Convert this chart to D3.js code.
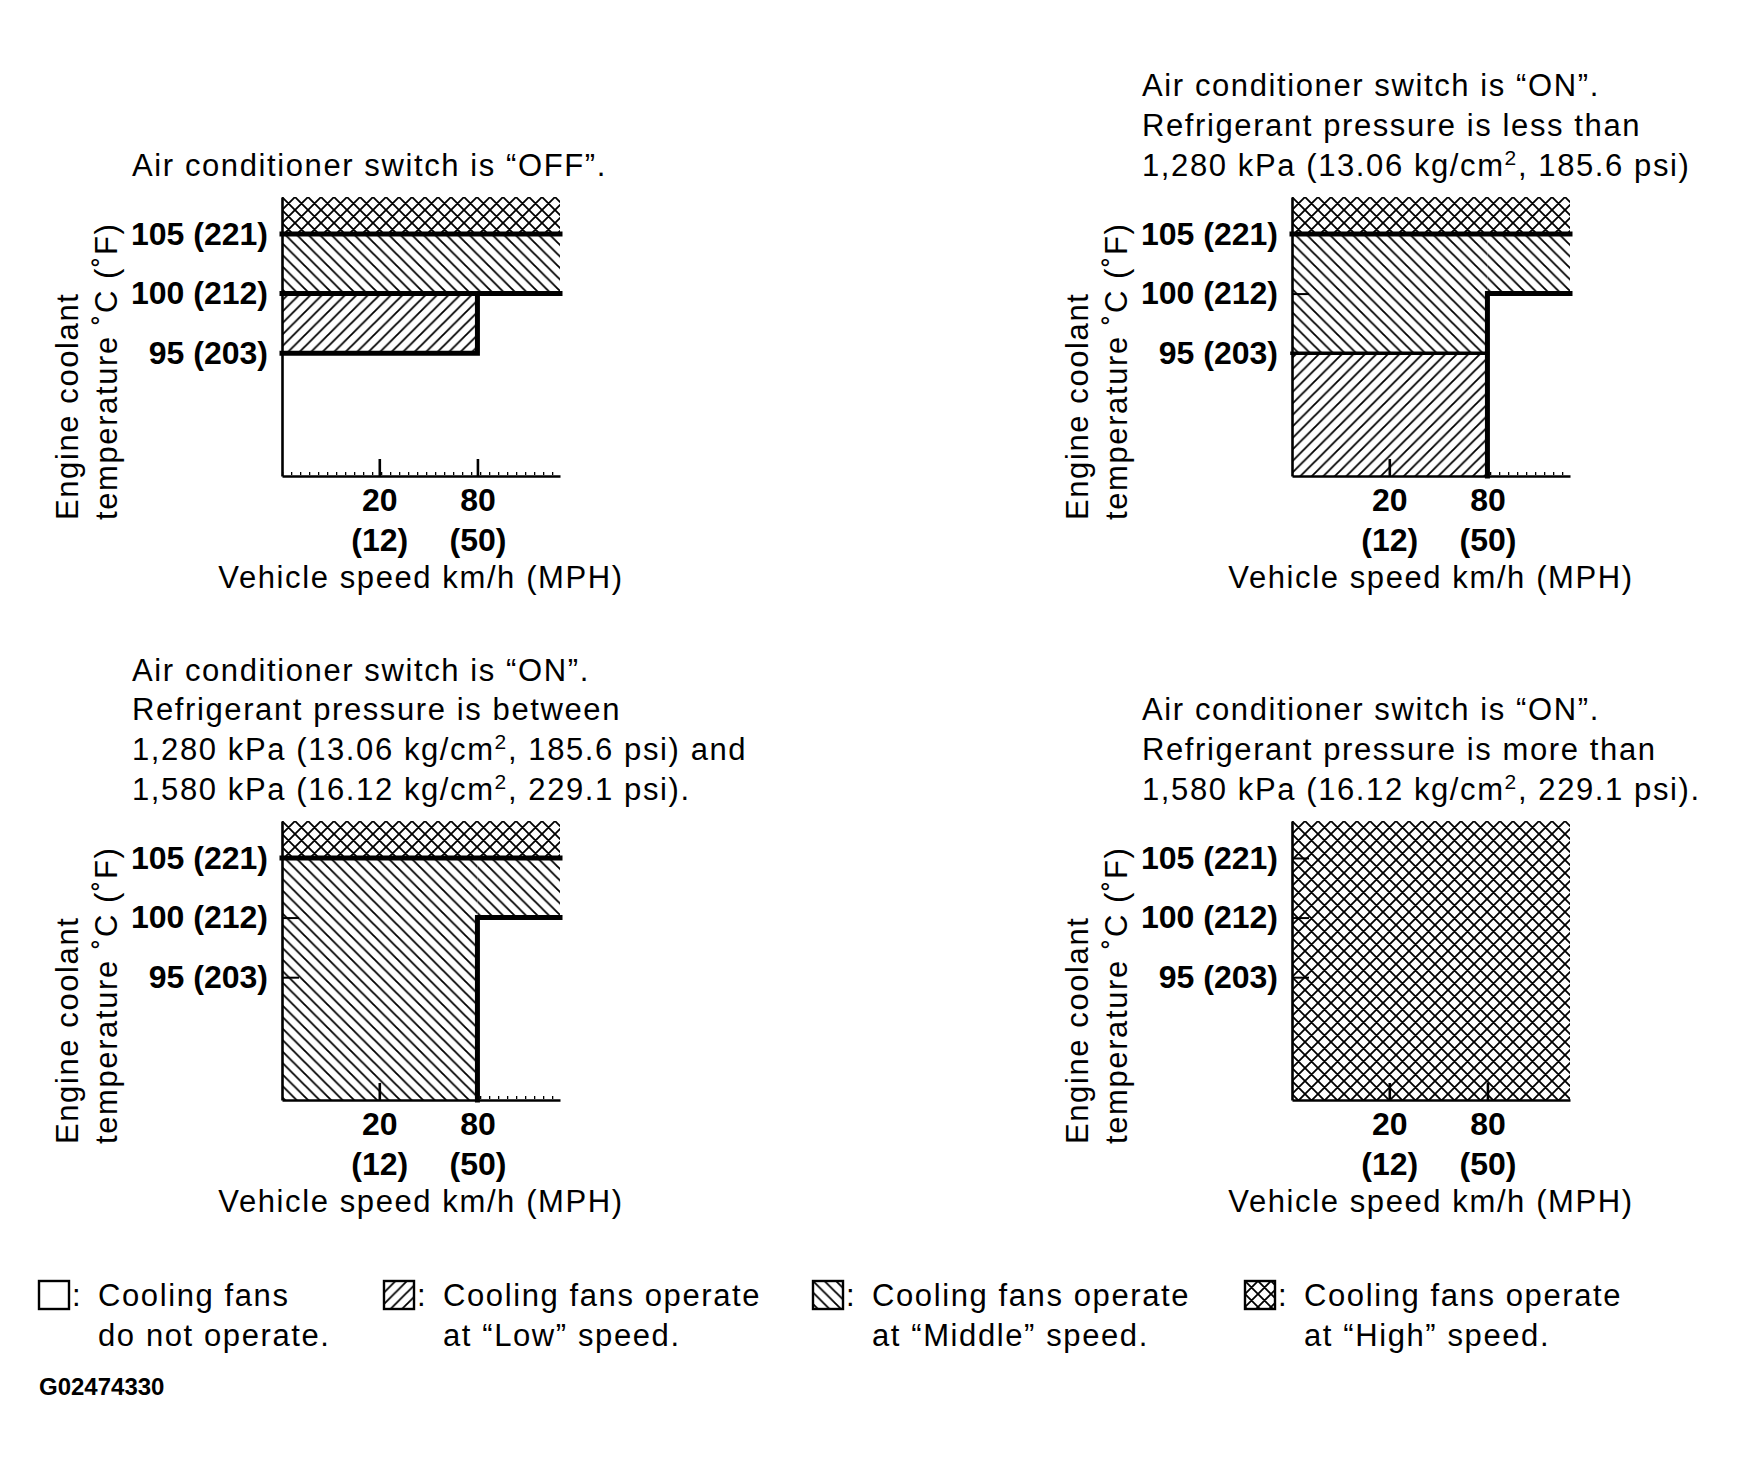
<!DOCTYPE html>
<html lang="en">
<head>
    <meta charset="UTF-8">
    <title>Cooling fan operation</title>
    <script src="https://cdn.jsdelivr.net/npm/d3@7"></script>
    <style>
        body { margin: 0; background: #fff; }
        text { font-family: "Liberation Sans", Arial, sans-serif; fill: #000; }
        .reg { font-size: 31px; letter-spacing: 1.6px; }
        .tick text, .num { font-size: 32px; font-weight: bold; }
    </style>
</head>
<body>
<div id="my_dataviz"></div>
<script>

    // ---- data -------------------------------------------------------------
    // temperature ticks in °C and the °F value shown in brackets
    const tempTicks = [95, 100, 105];
    const tempTicksF = [203, 212, 221];
    // vehicle speed ticks in km/h and MPH
    const speedTicks = [20, 80];
    const speedTicksMph = [12, 50];
    // the speed axis is not to scale: break points from left to right end
    const speedStops = [0, 20, 80, 120];
    // temperature shown from bottom to top of each plot
    const tempExtent = [84.7, 108.1];

    const panelTitles = [
        ['Air conditioner switch is \u201COFF\u201D.'],
        ['Air conditioner switch is \u201CON\u201D.',
         'Refrigerant pressure is less than',
         '1,280 kPa (13.06 kg/cm^2, 185.6 psi)'],
        ['Air conditioner switch is \u201CON\u201D.',
         'Refrigerant pressure is between',
         '1,280 kPa (13.06 kg/cm^2, 185.6 psi) and',
         '1,580 kPa (16.12 kg/cm^2, 229.1 psi).'],
        ['Air conditioner switch is \u201CON\u201D.',
         'Refrigerant pressure is more than',
         '1,580 kPa (16.12 kg/cm^2, 229.1 psi).']
    ];

    // zones: [fan level, speed from, speed to, temp from, temp to]
    const zonesOff = [
        ['high', 0, 120, 105, 108.1],
        ['middle', 0, 120, 100, 105],
        ['low', 0, 80, 95, 100]
    ];
    const zonesLow = [
        ['high', 0, 120, 105, 108.1],
        ['middle', 0, 80, 95, 105],
        ['middle', 80, 120, 100, 105],
        ['low', 0, 80, 84.7, 95]
    ];
    const zonesMid = [
        ['high', 0, 120, 105, 108.1],
        ['middle', 0, 80, 84.7, 105],
        ['middle', 80, 120, 100, 105]
    ];
    const zonesHigh = [
        ['high', 0, 120, 84.7, 108.1]
    ];

    // switching borders: [speed, temp] points, main = heavy line
    const edgesOff = [
        {main: true, pts: [[0, 105], [120, 105]]},
        {main: true, pts: [[0, 100], [120, 100]]},
        {main: true, pts: [[0, 95], [80, 95], [80, 100]]}
    ];
    const edgesLow = [
        {main: true, pts: [[0, 105], [120, 105]]},
        {main: false, pts: [[0, 95], [80, 95]]},
        {main: true, pts: [[80, 84.7], [80, 100], [120, 100]]}
    ];
    const edgesMid = [
        {main: true, pts: [[0, 105], [120, 105]]},
        {main: true, pts: [[80, 84.7], [80, 100], [120, 100]]}
    ];
    const edgesHigh = [];

    const legendLevels = ['off', 'low', 'middle', 'high'];
    const legendText = [
        ['Cooling fans', 'do not operate.'],
        ['Cooling fans operate', 'at \u201CLow\u201D speed.'],
        ['Cooling fans operate', 'at \u201CMiddle\u201D speed.'],
        ['Cooling fans operate', 'at \u201CHigh\u201D speed.']
    ];
    const figureId = 'G02474330';

    // ---- layout -----------------------------------------------------------
    const W = 1737, H = 1472;
    const pw = 278, ph = 279;
    const panels = [
        {left: 282, top: 197, zones: zonesOff, edges: edgesOff},
        {left: 1292, top: 197, zones: zonesLow, edges: edgesLow},
        {left: 282, top: 821, zones: zonesMid, edges: edgesMid},
        {left: 1292, top: 821, zones: zonesHigh, edges: edgesHigh}
    ];

    const svg = d3.select('#my_dataviz')
        .append('svg')
        .attr('width', W)
        .attr('height', H);

    // hatch patterns
    const defs = svg.append('defs');
    function hatch(id, p, d) {
        const pat = defs.append('pattern')
            .attr('id', id)
            .attr('patternUnits', 'userSpaceOnUse')
            .attr('width', p)
            .attr('height', p);
        pat.append('rect').attr('width', p).attr('height', p).attr('fill', '#fff');
        pat.append('path')
            .attr('d', d)
            .attr('stroke', '#000')
            .attr('stroke-width', 1.8)
            .attr('fill', 'none');
    }
    const p1 = 11.5, p2 = 13;
    const fwd = (p) => `M0,${p} L${p},0 M${-p / 4},${p / 4} L${p / 4},${-p / 4} M${3 * p / 4},${5 * p / 4} L${5 * p / 4},${3 * p / 4}`;
    const back = (p) => `M0,0 L${p},${p} M${-p / 4},${3 * p / 4} L${p / 4},${5 * p / 4} M${3 * p / 4},${-p / 4} L${5 * p / 4},${p / 4}`;
    hatch('h-low', p1, fwd(p1));
    hatch('h-middle', p1, back(p1));
    hatch('h-high', p2, fwd(p2) + ' ' + back(p2));
    const fillOf = {off: '#fff', low: 'url(#h-low)', middle: 'url(#h-middle)', high: 'url(#h-high)'};

    // scales shared by all four plots
    const x = d3.scaleLinear()
        .domain(speedStops)
        .range([0, pw * 0.35, pw * 0.703, pw]);
    const y = d3.scaleLinear()
        .domain(tempExtent)
        .range([ph, 0]);

    const line = d3.line()
        .x(d => x(d[0]))
        .y(d => y(d[1]));

    function textLine(sel, str) {
        // "^2" marks a superscript 2
        const parts = str.split('^2');
        sel.append('tspan').text(parts[0]);
        if (parts.length > 1) {
            sel.append('tspan').attr('dy', -11).attr('font-size', 21).text('2');
            sel.append('tspan').attr('dy', 11).text(parts[1]);
        }
    }

    panels.forEach(function (pn, k) {
        const g = svg.append('g')
            .attr('transform', 'translate(' + pn.left + ',' + pn.top + ')');

        // title, bottom aligned above the plot
        const lines = panelTitles[k];
        lines.forEach(function (t, i) {
            const tx = g.append('text')
                .attr('class', 'reg')
                .attr('x', -150)
                .attr('y', -32 - (lines.length - 1 - i) * 39.7)
                .attr('dy', '0.35em');
            textLine(tx, t);
        });

        // little marks along the speed axis
        g.append('line')
            .attr('x1', 0).attr('x2', pw)
            .attr('y1', ph - 2.5).attr('y2', ph - 2.5)
            .attr('stroke', '#000')
            .attr('stroke-width', 3)
            .attr('stroke-dasharray', '1.3 7.7');

        // fan zones
        g.selectAll('.zone')
            .data(pn.zones)
            .enter()
            .append('rect')
            .attr('class', 'zone')
            .attr('x', d => x(d[1]))
            .attr('width', d => x(d[2]) - x(d[1]))
            .attr('y', d => y(d[4]))
            .attr('height', d => y(d[3]) - y(d[4]))
            .attr('fill', d => fillOf[d[0]]);

        // temperature axis
        const yAxis = d3.axisLeft(y)
            .tickValues(tempTicks)
            .tickSize(-17)
            .tickSizeOuter(0)
            .tickPadding(14)
            .tickFormat((d, i) => d + ' (' + tempTicksF[i] + ')');
        const ya = g.append('g').attr('class', 'y-axis').call(yAxis);
        ya.attr('font-family', null).attr('font-size', null);
        ya.select('.domain').attr('stroke-width', 2.6);
        ya.selectAll('.tick line').attr('stroke-width', 2);

        // speed axis
        const xAxis = d3.axisBottom(x)
            .tickValues(speedTicks)
            .tickSize(-17)
            .tickSizeOuter(0);
        const xa = g.append('g')
            .attr('class', 'axis-x')
            .attr('transform', 'translate(0,' + ph + ')')
            .call(xAxis);
        xa.attr('font-family', null).attr('font-size', null);
        xa.select('.domain').attr('stroke-width', 2.6);
        xa.selectAll('.tick line').attr('stroke-width', 2.6);
        xa.selectAll('.tick text').each(function (d, i) {
            const t = d3.select(this).text('').attr('y', null).attr('dy', null);
            t.append('tspan').attr('x', 0).attr('y', 24).attr('dy', '0.35em').text(d);
            t.append('tspan').attr('x', 0).attr('y', 64).attr('dy', '0.35em').text('(' + speedTicksMph[i] + ')');
        });

        // switching borders
        g.selectAll('.edge')
            .data(pn.edges)
            .enter()
            .append('path')
            .attr('class', 'edge')
            .attr('d', d => line(d.pts))
            .attr('fill', 'none')
            .attr('stroke', '#000')
            .attr('stroke-width', d => d.main ? 5 : 3.6)
            .attr('stroke-linecap', 'square');

        // axis titles
        g.append('text')
            .attr('class', 'reg')
            .attr('x', pw / 2)
            .attr('y', ph + 101)
            .attr('dy', '0.35em')
            .attr('text-anchor', 'middle')
            .text('Vehicle speed km/h (MPH)');
        const yt = g.append('g')
            .attr('transform', 'translate(-195,' + (ph + 44) + ') rotate(-90)');
        yt.append('text').attr('class', 'reg').attr('y', -20).attr('dy', '0.35em').text('Engine coolant');
        yt.append('text').attr('class', 'reg').attr('y', 19).attr('dy', '0.35em').text('temperature \u02DAC (\u02DAF)');
    });

    // legend
    const legX = [39, 384, 813, 1245];
    const leg = svg.selectAll('.legend')
        .data(legendLevels)
        .enter()
        .append('g')
        .attr('class', 'legend')
        .attr('transform', (d, i) => 'translate(' + legX[i] + ',1281)');
    leg.append('rect')
        .attr('width', 30)
        .attr('height', 28)
        .attr('fill', d => fillOf[d])
        .attr('stroke', '#000')
        .attr('stroke-width', 2.4);
    leg.append('text')
        .attr('class', 'reg')
        .attr('x', 33)
        .attr('y', 14)
        .attr('dy', '0.35em')
        .text(':');
    leg.each(function (d, i) {
        const gg = d3.select(this);
        legendText[i].forEach(function (t, j) {
            gg.append('text')
                .attr('class', 'reg')
                .attr('x', 59)
                .attr('y', 14 + j * 40)
                .attr('dy', '0.35em')
                .text(t);
        });
    });

    svg.append('text')
        .attr('x', 39)
        .attr('y', 1387)
        .attr('dy', '0.35em')
        .attr('font-size', 24)
        .attr('font-weight', 'bold')
        .text(figureId);

</script>

</body>
</html>
